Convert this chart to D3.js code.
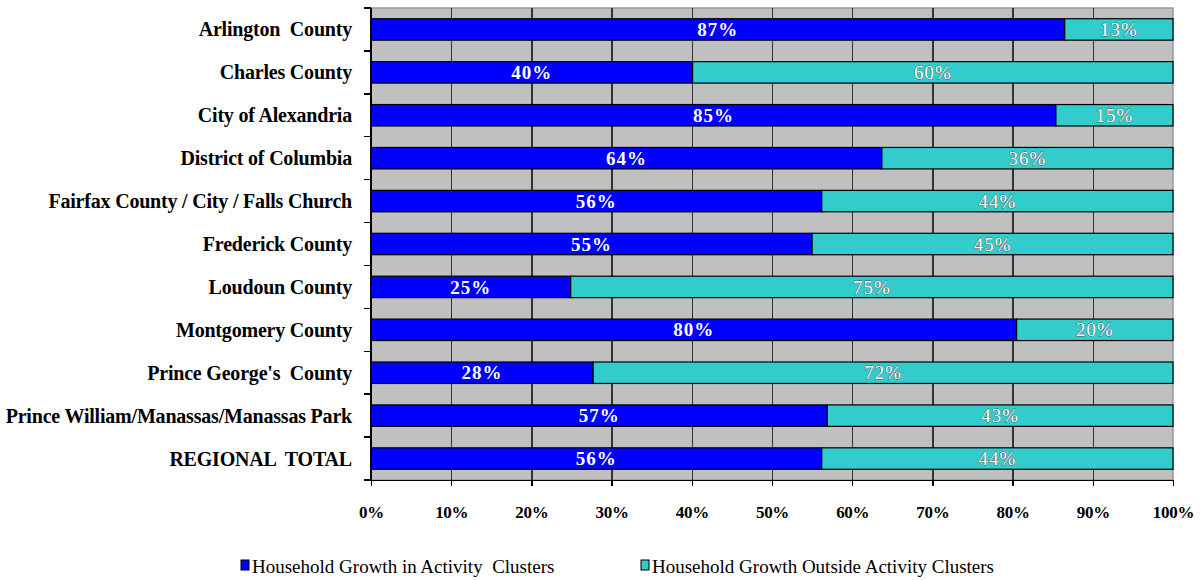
<!DOCTYPE html>
<meta charset="utf-8">
<style>
html, body { margin: 0; padding: 0; background: #fff; overflow: hidden; }
svg { display: block; }
text { font-family: "Liberation Serif", "Times New Roman", serif; }
g.y.axis text { font-size: 20px; font-weight: bold; fill: #000; letter-spacing: -0.2px; }
g.x.axis text { font-size: 17px; font-weight: bold; fill: #000; letter-spacing: -0.3px; }
g.axis path, g.axis line { stroke: #000; stroke-width: 1.5px; shape-rendering: crispEdges; }
g.grid line { stroke: #333; stroke-width: 1.5px; shape-rendering: crispEdges; }
g.grid path { stroke: none; }
text.lab-in { font-size: 19px; font-weight: bold; fill: #fff; letter-spacing: 1px; }
text.lab-out { font-size: 19px; fill: #fff; stroke: #555; stroke-width: 0.8px; paint-order: stroke; letter-spacing: 1px; }
text.legend { font-size: 19px; fill: #000; }
</style>
<body>
<div id="chart"></div>
<script src="https://cdnjs.cloudflare.com/ajax/libs/d3/7.8.5/d3.min.js"></script>
<script>
// Household growth in / outside activity clusters, by jurisdiction

var categories = [
  "Arlington  County",
  "Charles County",
  "City of Alexandria",
  "District of Columbia",
  "Fairfax County / City / Falls Church",
  "Frederick County",
  "Loudoun County",
  "Montgomery County",
  "Prince George's  County",
  "Prince William/Manassas/Manassas Park",
  "REGIONAL  TOTAL"
];

// share of growth (%)
var inside  = [86.5, 40.1, 85.4, 63.7, 56.2, 55.0, 24.9, 80.5, 27.7, 56.9, 56.2];
var outside = [13.5, 59.9, 14.6, 36.3, 43.8, 45.0, 75.1, 19.5, 72.3, 43.1, 43.8];

// printed labels
var insideLabels  = ["87%", "40%", "85%", "64%", "56%", "55%", "25%", "80%", "28%", "57%", "56%"];
var outsideLabels = ["13%", "60%", "15%", "36%", "44%", "45%", "75%", "20%", "72%", "43%", "44%"];

var xTicks = [0, 10, 20, 30, 40, 50, 60, 70, 80, 90, 100];
var seriesNames = ["Household Growth in Activity  Clusters", "Household Growth Outside Activity Clusters"];
var colors = ["#0000ff", "#33cccc"];

var outerWidth = 1204, outerHeight = 580;
var margin = {top: 8, right: 31, bottom: 100, left: 371};
var innerWidth = outerWidth - margin.left - margin.right;
var innerHeight = outerHeight - margin.top - margin.bottom;

var svg = d3.select("#chart").append("svg")
    .attr("width", outerWidth)
    .attr("height", outerHeight);

var g = svg.append("g")
    .attr("transform", "translate(" + margin.left + "," + margin.top + ")");

var x = d3.scaleLinear().domain([0, 100]).range([0, innerWidth]);
var y = d3.scaleBand().domain(categories).range([0, innerHeight]).paddingInner(0.5).paddingOuter(0.25);

// gray plot background
g.append("rect")
    .attr("width", innerWidth)
    .attr("height", innerHeight)
    .attr("fill", "#c0c0c0")
    .attr("stroke", "#999")
    .attr("stroke-width", 1.5);

// vertical gridlines
g.append("g")
    .attr("class", "grid")
    .attr("transform", "translate(0," + innerHeight + ")")
    .call(d3.axisBottom(x).tickValues(xTicks.slice(1, -1)).tickSize(-innerHeight).tickFormat(""));

// bars
var rows = categories.map(function (c, i) {
  return {cat: c, a: inside[i], b: outside[i], la: insideLabels[i], lb: outsideLabels[i]};
});

var row = g.selectAll("g.row").data(rows).enter().append("g").attr("class", "row");

row.append("rect")
    .attr("x", x(0))
    .attr("y", function (d) { return y(d.cat); })
    .attr("width", function (d) { return x(d.a) - x(0); })
    .attr("height", y.bandwidth())
    .attr("fill", colors[0])
    .attr("stroke", "#000")
    .attr("stroke-width", 1.2);

row.append("rect")
    .attr("x", function (d) { return x(d.a); })
    .attr("y", function (d) { return y(d.cat); })
    .attr("width", function (d) { return x(d.a + d.b) - x(d.a); })
    .attr("height", y.bandwidth())
    .attr("fill", colors[1])
    .attr("stroke", "#000")
    .attr("stroke-width", 1.2);

row.append("text")
    .attr("class", "lab-in")
    .attr("x", function (d) { return x(d.a / 2); })
    .attr("y", function (d) { return y(d.cat) + y.bandwidth() / 2; })
    .attr("dy", "0.35em")
    .attr("text-anchor", "middle")
    .text(function (d) { return d.la; });

row.append("text")
    .attr("class", "lab-out")
    .attr("x", function (d) { return x(d.a + d.b / 2); })
    .attr("y", function (d) { return y(d.cat) + y.bandwidth() / 2; })
    .attr("dy", "0.35em")
    .attr("text-anchor", "middle")
    .text(function (d) { return d.lb; });

// y axis: labels centred on bars, ticks between bands
var yAxisG = g.append("g").attr("class", "y axis");
yAxisG.append("line")
    .attr("x1", 0).attr("x2", 0)
    .attr("y1", 0).attr("y2", innerHeight);
var step = y.step();
d3.range(categories.length + 1).forEach(function (i) {
  var yy = y(categories[0]) - y.paddingInner() * step / 2 + i * step;
  if (i === 0) yy = 0;
  if (i === categories.length) yy = innerHeight;
  yAxisG.append("line").attr("x1", -7).attr("x2", 0).attr("y1", yy).attr("y2", yy);
});
yAxisG.selectAll("text.cat").data(categories).enter().append("text")
    .attr("class", "cat")
    .attr("x", -19)
    .attr("y", function (d) { return y(d) + y.bandwidth() / 2; })
    .attr("dy", "0.35em")
    .attr("text-anchor", "end")
    .style("white-space", "pre")
    .text(function (d) { return d; });

// x axis
var xAxisG = g.append("g")
    .attr("class", "x axis")
    .attr("transform", "translate(0," + innerHeight + ")")
    .call(d3.axisBottom(x).tickValues(xTicks).tickSize(6).tickSizeOuter(0)
      .tickFormat(function (d) { return d + "%"; }));
xAxisG.selectAll("text").attr("y", 26);

// legend
var legend = svg.append("g").attr("class", "legend-g");
var legendX = [241, 641];
seriesNames.forEach(function (name, i) {
  legend.append("rect")
      .attr("x", legendX[i])
      .attr("y", 560)
      .attr("width", 8)
      .attr("height", 10)
      .attr("fill", colors[i])
      .attr("stroke", "#000")
      .attr("stroke-width", 1);
  legend.append("text")
      .attr("class", "legend")
      .attr("x", legendX[i] + 11)
      .attr("y", 573)
      .style("white-space", "pre")
      .text(name);
});
</script>
